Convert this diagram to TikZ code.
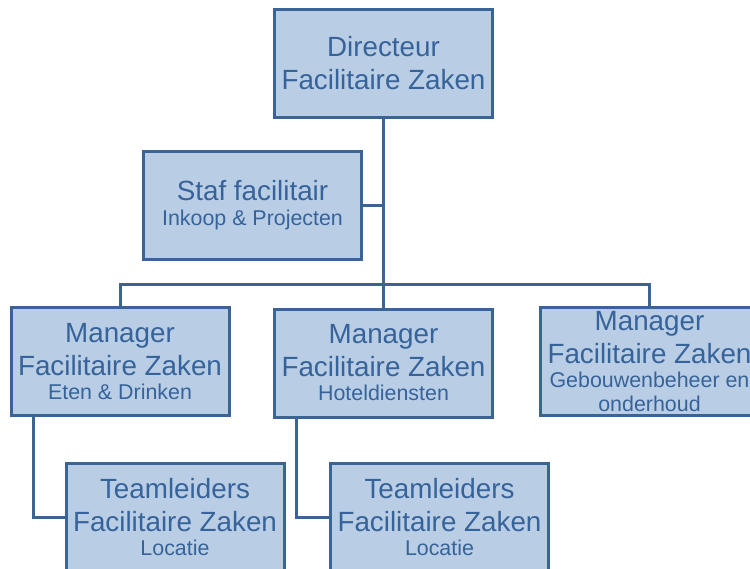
\documentclass[tikz,border=0pt]{standalone}
\usepackage{fontspec}
\setmainfont{Liberation Sans}
\usetikzlibrary{positioning}

\definecolor{boxfill}{HTML}{B9CDE5}
\definecolor{boxline}{HTML}{3A6496}
\definecolor{boxtext}{HTML}{36639A}

\newcommand\mainsize{\fontsize{27.8}{33}\selectfont}
\newcommand\subsize{\fontsize{21.4}{24}\selectfont}

\tikzset{
	orgbox/.style={draw=boxline, fill=boxfill, line width=3pt, text=boxtext,
		minimum width=218pt, minimum height=108pt, inner sep=0pt,
		align=center, font=\mainsize},
	orgline/.style={draw=boxline, line width=3pt}
}

\begin{document}
\begin{tikzpicture}[x=1pt,y=-1pt]
	%\draw[help lines] (0,0) grid (750,568);
	\clip (0,0) rectangle (750,568);

	\path
	coordinate (pdir) at (383.5,63.5)
	coordinate (pstaf) at (252.5,205.5)
	coordinate (pman1) at (120,361.5)
	coordinate (pman2) at (383.5,363)
	coordinate (pman3) at (649.5,361.5)
	coordinate (pteam1) at (175,517)
	coordinate (pteam2) at (439.5,517)
	coordinate (bus) at (383.5,284)
	;

	\node[orgbox] (dir) at (pdir) {Directeur\\Facilitaire Zaken};
	\node[orgbox] (staf) at (pstaf) {Staf facilitair\\[-8pt]{\subsize Inkoop \& Projecten}};
	\node[orgbox] (man1) at (pman1) {Manager\\Facilitaire Zaken\\[-9pt]{\subsize Eten \& Drinken}};
	\node[orgbox] (man2) at (pman2) {Manager\\Facilitaire Zaken\\[-9pt]{\subsize Hoteldiensten}};
	\node[orgbox] (man3) at (pman3) {Manager\\Facilitaire Zaken\\[-9pt]{\subsize Gebouwenbeheer en}\\[-9pt]{\subsize onderhoud}};
	\node[orgbox] (team1) at (pteam1) {Teamleiders\\Facilitaire Zaken\\[-9pt]{\subsize Locatie}};
	\node[orgbox] (team2) at (pteam2) {Teamleiders\\Facilitaire Zaken\\[-9pt]{\subsize Locatie}};

	% connectors
	\draw[orgline] (dir.south) -- (man2.north);
	\draw[orgline] (staf.east) -- (staf.east -| dir.south);
	\draw[orgline] (man1.north) |- (bus) -| (man3.north);
	\draw[orgline] ([xshift=-87pt]man1.south) |- (team1.west);
	\draw[orgline] ([xshift=-87pt]man2.south) |- (team2.west);

\end{tikzpicture}
\end{document}
